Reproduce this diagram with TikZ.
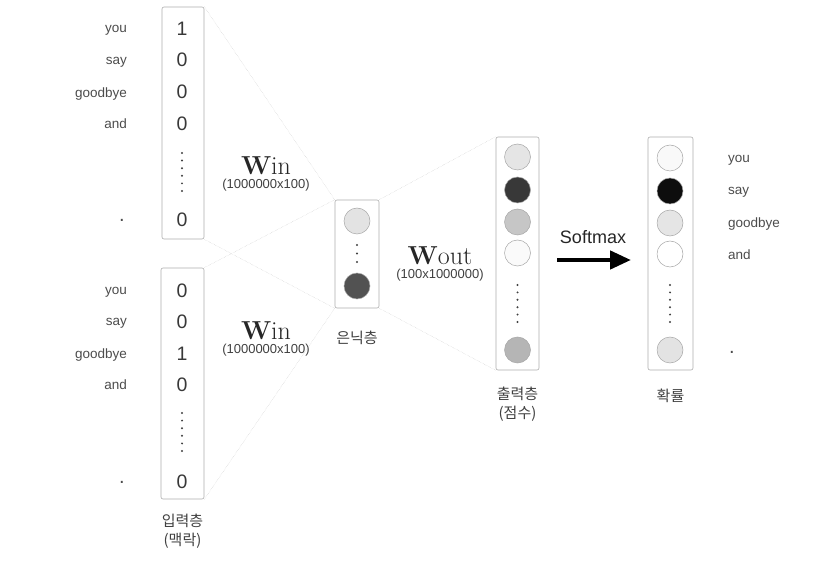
\documentclass[tikz,border=0pt]{standalone}
\usepackage{fontspec}
\newfontfamily\sans{Liberation Sans}
\newfontfamily\kr{Noto Sans CJK KR}
\usetikzlibrary{arrows.meta, positioning}

\begin{document}
\begin{tikzpicture}[x=1pt, y=-1pt,
        every node/.style={inner sep=0pt, align=center},
        vec/.style={draw=gray!65, rounded corners=2pt, line width=0.6pt},
        num/.style={font=\sans\fontsize{19.5}{19.5}\selectfont, text=black!78},
        word/.style={font=\sans\fontsize{13.5}{13.5}\selectfont, text=black!70},
        unit/.style={circle, draw=gray!70, line width=0.5pt, minimum size=26pt},
        kor/.style={font=\kr\fontsize{15}{19}\selectfont, text=black!75},
        wlab/.style={font=\fontsize{26}{26}\selectfont, text=black!85},
        dim/.style={font=\sans\fontsize{13}{13}\selectfont, text=black!75},
        link/.style={gray!45, line width=0.4pt, densely dotted},
        vdots/.style={line width=2.2pt, line cap=round, dash pattern=on 0pt off 7.6pt, black!75},
        softarr/.style={-{Triangle[length=21pt, width=18pt]}, line width=4.5pt}
    ]
    \useasboundingbox (0,0) rectangle (817,561);

    % input layer (context)
    \node[vec, minimum width=42pt, minimum height=232pt] (in1) at (183,123) {};
    \node[vec, minimum width=43pt, minimum height=231pt] (in2) at (182.5,383.5) {};
    \foreach \v/\y [count=\i] in {1/29,0/60,0/92,0/124,0/220}
        \node[num] (ta\i) at (182,\y) {\v};
    \foreach \v/\y [count=\i] in {0/291,0/322,1/354,0/385,0/482}
        \node[num] (tb\i) at (182,\y) {\v};
    \draw[vdots] (182,153) -- (182,192);
    \draw[vdots] (182,413) -- (182,452);
    \foreach \w/\y [count=\i] in {you/30,say/62,goodbye/95,and/126}
        \node[word, anchor=mid east] (wa\i) at (127,\y) {\w};
    \foreach \w/\y [count=\i] in {you/292,say/323,goodbye/356,and/387}
        \node[word, anchor=mid east] (wb\i) at (127,\y) {\w};
    \node[word, font=\sans\fontsize{20}{20}\selectfont] (wa5) at (122,220) {.};
    \node[word, font=\sans\fontsize{20}{20}\selectfont] (wb5) at (122,482) {.};
    \node[kor, below=15pt of in2] (incap) {입력층\\(맥락)};

    % hidden layer
    \node[vec, minimum width=44pt, minimum height=108pt] (hid) at (357,254) {};
    \node[unit, fill=gray!22] (h1) at (357,221) {};
    \node[unit, fill=black!68] (h2) at (357,286) {};
    \draw[vdots, dash pattern=on 0pt off 8.5pt] (357,245) -- (357,262);
    \node[kor, below=23pt of hid] (hidcap) {은닉층};

    % output layer (scores)
    \node[vec, minimum width=43pt, minimum height=233pt] (out) at (517.5,253.5) {};
    \node[unit, fill=gray!20] (o1) at (517.5,157) {};
    \node[unit, fill=black!78] (o2) at (517.5,190) {};
    \node[unit, fill=gray!45] (o3) at (517.5,222) {};
    \node[unit, fill=gray!4] (o4) at (517.5,253) {};
    \node[unit, fill=gray!58] (o5) at (517.5,350) {};
    \draw[vdots, dash pattern=on 0pt off 7.4pt] (517.5,285) -- (517.5,322);
    \node[kor, below=17pt of out] (outcap) {출력층\\(점수)};

    % probabilities
    \node[vec, minimum width=45pt, minimum height=233pt] (prob) at (670.5,253.5) {};
    \node[unit, fill=gray!5] (p1) at (670,158) {};
    \node[unit, fill=black!95] (p2) at (670,191) {};
    \node[unit, fill=gray!20] (p3) at (670,223) {};
    \node[unit, fill=white] (p4) at (670,254) {};
    \node[unit, fill=gray!22] (p5) at (670,350) {};
    \draw[vdots, dash pattern=on 0pt off 7.4pt] (670,285) -- (670,322);
    \foreach \w/\y [count=\i] in {you/160,say/192,goodbye/225,and/257}
        \node[word, anchor=mid west] (wc\i) at (728,\y) {\w};
    \node[word, font=\sans\fontsize{20}{20}\selectfont] (wc5) at (732,352) {.};
    \node[kor, below=18pt of prob] (probcap) {확률};

    % weights
    \node[wlab] (win1) at (266,166) {\textbf{W}in};
    \node[dim, below=4pt of win1] (din1) {(1000000x100)};
    \node[wlab] (win2) at (266,331) {\textbf{W}in};
    \node[dim, below=4pt of win2] (din2) {(1000000x100)};
    \node[wlab] (wout) at (440,256) {\textbf{W}out};
    \node[dim, below=4pt of wout] (dout) {(100x1000000)};

    \draw[link] (in1.north east) -- (hid.north west);
    \draw[link] (in1.south east) -- (hid.south west);
    \draw[link] (in2.north east) -- (hid.north west);
    \draw[link] (in2.south east) -- (hid.south west);
    \draw[link] (hid.north east) -- (out.north west);
    \draw[link] (hid.south east) -- (out.south west);

    % softmax
    \coordinate (sa) at (557,260);
    \coordinate (sb) at (631,260);
    \draw[softarr] (sa) -- (sb);
    \node[font=\sans\fontsize{18}{18}\selectfont, text=black!85] (smax) at (593,237) {Softmax};
\end{tikzpicture}
\end{document}
